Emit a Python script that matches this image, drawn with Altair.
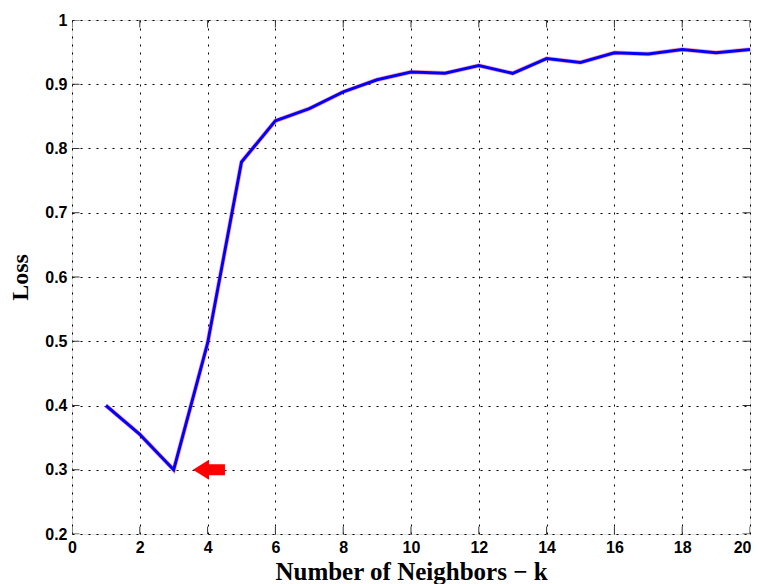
import altair as alt
import pandas as pd

# Data
k_values = list(range(1, 21))
loss_values = [0.400, 0.355, 0.300, 0.497, 0.779, 0.843, 0.862, 0.888, 0.907, 0.919,
               0.917, 0.929, 0.917, 0.940, 0.934, 0.949, 0.947, 0.954, 0.949, 0.954]
x_ticks = [0, 2, 4, 6, 8, 10, 12, 14, 16, 18, 20]
y_ticks = [0.2, 0.3, 0.4, 0.5, 0.6, 0.7, 0.8, 0.9, 1.0]
arrow_x = [4.04]
arrow_y = [0.30]

W, H = 678, 514

df = pd.DataFrame({"k": k_values, "loss": loss_values})
xt = pd.DataFrame({"v": x_ticks})
yt = pd.DataFrame({"v": y_ticks})
arrow = pd.DataFrame({"x": arrow_x, "y": arrow_y})

xscale = alt.Scale(domain=[0, 20], nice=False, zero=False)
yscale = alt.Scale(domain=[0.2, 1.0], nice=False, zero=False)

label_font = "Liberation Sans"
title_font = "Liberation Serif"

xaxis = alt.Axis(
    values=x_ticks, grid=True, gridColor="#000000", gridDash=[2, 6], gridWidth=1,
    gridOpacity=1, ticks=False, tickSize=0, domain=False,
    labelFont=label_font, labelFontWeight="bold", labelFontSize=16, labelColor="#000",
    labelPadding=5, labelFlush=False,
    labelAlign={"condition": {"test": "datum.value == 20", "value": "right"}, "value": "center"},
    labelOffset={"condition": {"test": "datum.value == 20", "value": 1}, "value": 0},
    title="Number of Neighbors \u2212 k", titleFont=title_font, titleFontWeight="bold",
    titleFontSize=25, titleColor="#000", titleX=W / 2, titleY=45,
    titleBaseline="alphabetic", titleAnchor="middle",
)
yaxis = alt.Axis(
    values=y_ticks, grid=True, gridColor="#000000", gridDash=[2, 6], gridWidth=1,
    gridOpacity=1, ticks=False, tickSize=0, domain=False,
    labelFont=label_font, labelFontWeight="bold", labelFontSize=16, labelColor="#000",
    labelPadding=5, labelFlush=False,
    labelExpr="datum.value == 1 ? '1' : format(datum.value, '.1f')",
    title="Loss", titleFont=title_font, titleFontWeight="bold", titleFontSize=24,
    titleColor="#000", titleX=-45, titleY=H / 2, titleBaseline="alphabetic",
    titleAngle=-90,
)

base_line = alt.Chart(df).encode(
    x=alt.X("k:Q", scale=xscale, axis=xaxis),
    y=alt.Y("loss:Q", scale=yscale, axis=yaxis),
)
red_under = base_line.mark_line(color="#ff0000", strokeWidth=4.5, opacity=0.35)
blue_line = base_line.mark_line(color="#0000ff", strokeWidth=3)

tick_style = dict(color="#333333", thickness=1, size=15, clip=True, opacity=1)
xt_bottom = alt.Chart(xt).mark_tick(**tick_style).encode(
    x=alt.X("v:Q", scale=xscale), y=alt.value(H))
xt_top = alt.Chart(xt).mark_tick(**tick_style).encode(
    x=alt.X("v:Q", scale=xscale), y=alt.value(0))
yt_left = alt.Chart(yt).mark_tick(**tick_style).encode(
    y=alt.Y("v:Q", scale=yscale), x=alt.value(0))
yt_right = alt.Chart(yt).mark_tick(**tick_style).encode(
    y=alt.Y("v:Q", scale=yscale), x=alt.value(W))

arrow_path = "M -1 0 L 0 -0.625 L 0 -0.34 L 1 -0.34 L 1 0.34 L 0 0.34 L 0 0.625 Z"
arrow_mark = alt.Chart(arrow).mark_point(
    shape=arrow_path, filled=True, color="#ff0000", size=1024, opacity=1, strokeWidth=0
).encode(x=alt.X("x:Q", scale=xscale), y=alt.Y("y:Q", scale=yscale))

chart = alt.layer(
    red_under, blue_line, xt_bottom, xt_top, yt_left, yt_right, arrow_mark
).properties(
    width=W, height=H,
    autosize=alt.AutoSizeParams(type="none"),
    padding={"left": 64, "top": 12, "right": 1, "bottom": 50},
).configure_view(
    stroke="#555555", strokeWidth=1
).configure(background="white")

chart.save("out.html", embed_options={"renderer": "svg", "actions": False})
